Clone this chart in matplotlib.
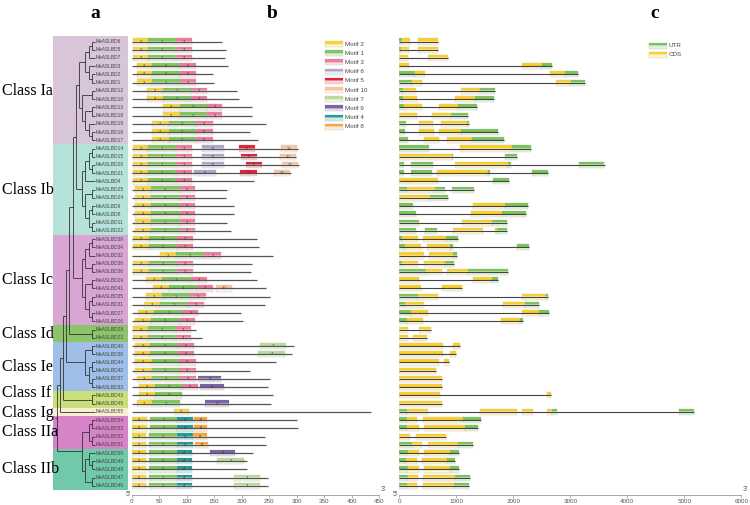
import numpy as np
import matplotlib
matplotlib.use("Agg")
import matplotlib.pyplot as plt
from matplotlib.patches import Rectangle
from matplotlib.colors import to_rgb

# ---- data -------------------------------------------------------------
gene_ids = [6, 5, 7, 3, 2, 1, 12, 10, 13, 18, 19, 16, 17,
            14, 15, 20, 21, 4, 25, 24, 9, 8, 11, 22,
            39, 34, 32, 38, 36, 29, 41, 35, 31, 27, 26,
            28, 23,
            40, 30, 44, 42, 37, 33,
            43, 45,
            55,
            54, 53, 52, 51,
            50, 49, 48, 47, 46]
class_names = ["Class Ia", "Class Ib", "Class Ic", "Class Id", "Class Ie",
               "Class If", "Class Ig", "Class IIa", "Class IIb"]
class_sizes = [13, 11, 11, 2, 6, 2, 1, 4, 5]
class_colors = ["#d8c5da", "#b5e2d9", "#d9a5d3", "#8dc46b", "#9fbfe9",
                "#c9df7c", "#fbecd4", "#d683c7", "#70c9a8"]
# small vertical nudges (rows) so the two thin classes' labels don't collide
label_shift = [0, 0, 0, 0, 0, -0.75, 0.1, 0, 0]

# cladogram topology (gene numbers)
Ia = ((((6, 5), 7), (3, (2, 1))), ((12, 10), ((13, 18), (19, (16, 17)))))
Ib = ((((14, 15), (20, 21)), 4), ((25, 24), ((9, 8), (11, 22))))
Ic = ((((39, 34), 32), (38, 36)), ((29, 41), ((35, 31), (27, 26))))
Id = (28, 23)
Ie = ((40, 30), ((44, 42), (37, 33)))
If = (43, 45)
IIa = ((54, 53), (52, 51))
IIb = ((50, (49, 48)), (47, 46))
tree = (((((((((Ia, Ib), Ic), Id), Ie), If), 55)), (IIa, IIb)))

# panel b: protein length (aa) and motif hits (motif, start, end)
protein_len = [165, 171, 170, 175, 147, 149, 191, 195, 218, 218, 245, 215, 229,
               302, 299, 304, 289, 223, 173, 171, 186, 186, 173, 180,
               228, 231, 256, 219, 216, 227, 244, 251, 242, 199, 202,
               117, 128,
               295, 292, 263, 215, 252, 248,
               257, 254,
               435,
               300, 303, 242, 245,
               221, 209, 210, 248, 248]
motifs = [
    [(2, 2, 30), (1, 30, 80), (3, 80, 110)],
    [(2, 2, 30), (1, 30, 80), (3, 80, 110)],
    [(2, 2, 30), (1, 30, 80), (3, 80, 110)],
    [(2, 9, 37), (1, 37, 88), (3, 88, 117)],
    [(2, 9, 37), (1, 37, 88), (3, 88, 117)],
    [(2, 9, 37), (1, 37, 88), (3, 88, 117)],
    [(2, 28, 57), (1, 57, 107), (3, 107, 136)],
    [(2, 28, 57), (1, 57, 107), (3, 107, 136)],
    [(2, 57, 87), (1, 87, 137), (3, 137, 165)],
    [(2, 57, 87), (1, 87, 137), (3, 137, 165)],
    [(2, 37, 67), (1, 67, 117), (3, 117, 147)],
    [(2, 37, 67), (1, 67, 117), (3, 117, 147)],
    [(2, 37, 67), (1, 67, 117), (3, 117, 147)],
    [(2, 2, 30), (1, 30, 81), (3, 81, 110), (6, 128, 167), (5, 195, 225), (10, 271, 300)],
    [(2, 2, 30), (1, 30, 81), (3, 81, 110), (6, 128, 167), (5, 198, 228), (10, 270, 298)],
    [(2, 2, 30), (1, 30, 81), (3, 81, 110), (6, 128, 167), (5, 207, 237), (10, 274, 302)],
    [(2, 2, 30), (1, 30, 81), (3, 81, 110), (6, 113, 153), (5, 197, 227), (10, 259, 288)],
    [(2, 2, 30), (1, 30, 81), (3, 81, 110)],
    [(2, 6, 35), (1, 35, 87), (3, 87, 115)],
    [(2, 6, 35), (1, 35, 87), (3, 87, 115)],
    [(2, 6, 35), (1, 35, 87), (3, 87, 115)],
    [(2, 6, 35), (1, 35, 87), (3, 87, 115)],
    [(2, 6, 35), (1, 35, 87), (3, 87, 115)],
    [(2, 6, 35), (1, 35, 87), (3, 87, 115)],
    [(2, 3, 32), (1, 32, 83), (3, 83, 112)],
    [(2, 3, 32), (1, 32, 83), (3, 83, 112)],
    [(2, 51, 80), (1, 80, 132), (3, 132, 162)],
    [(2, 3, 32), (1, 32, 83), (3, 83, 112)],
    [(2, 3, 32), (1, 32, 83), (3, 83, 112)],
    [(2, 26, 55), (1, 55, 107), (3, 107, 136)],
    [(2, 39, 68), (1, 68, 119), (3, 119, 148), (10, 153, 182)],
    [(2, 26, 55), (1, 55, 106), (3, 106, 135)],
    [(2, 22, 51), (1, 51, 103), (3, 103, 132)],
    [(2, 12, 41), (1, 41, 93), (3, 93, 121)],
    [(2, 6, 35), (1, 35, 87), (3, 87, 115)],
    [(2, 2, 30), (1, 30, 80), (3, 80, 108)],
    [(2, 2, 30), (1, 30, 80), (3, 80, 108)],
    [(2, 6, 34), (1, 34, 85), (3, 85, 114), (7, 233, 281)],
    [(2, 6, 34), (1, 34, 85), (3, 85, 114), (7, 230, 278)],
    [(2, 6, 36), (1, 36, 86), (3, 86, 116)],
    [(2, 6, 36), (1, 36, 86), (3, 86, 116)],
    [(2, 9, 37), (1, 37, 88), (3, 88, 117), (9, 120, 163)],
    [(2, 13, 42), (1, 42, 92), (3, 92, 121), (9, 124, 167)],
    [(2, 13, 42), (1, 42, 92)],
    [(2, 9, 37), (1, 37, 88), (9, 133, 177)],
    [(2, 76, 104)],
    [(2, 0, 28), (1, 34, 83), (4, 83, 112), (8, 113, 137)],
    [(2, 0, 28), (1, 34, 83), (4, 83, 112), (8, 113, 137)],
    [(2, 0, 26), (1, 32, 82), (4, 82, 111), (8, 112, 137)],
    [(2, 0, 26), (1, 32, 82), (4, 82, 111), (8, 115, 139)],
    [(2, 0, 26), (1, 32, 82), (4, 82, 110), (9, 143, 187)],
    [(2, 0, 26), (1, 32, 82), (4, 82, 110), (7, 155, 204)],
    [(2, 0, 26), (1, 32, 82), (4, 82, 110)],
    [(2, 0, 26), (1, 32, 82), (4, 82, 110), (7, 186, 234)],
    [(2, 0, 26), (1, 32, 82), (4, 82, 110), (7, 186, 234)],
]
motif_order = [2, 1, 3, 6, 5, 10, 7, 9, 4, 8]
motif_colors = {2: "#f7d23a", 1: "#80c55e", 3: "#ee7c9a", 6: "#aaa7c9",
                5: "#e5223c", 10: "#f9c49b", 7: "#b9dc9b", 9: "#7b63a9",
                4: "#209c9c", 8: "#f7a63b"}

# panel c: exons (U = UTR, C = CDS), bp
exons = [
    [("U", 0, 42), ("C", 42, 188), ("C", 322, 673)],
    [("U", 0, 30), ("C", 30, 176), ("C", 334, 685)],
    [("C", 0, 147), ("C", 510, 860)],
    [("C", 0, 176), ("C", 2147, 2498), ("U", 2498, 2673)],
    [("U", 0, 276), ("C", 276, 451), ("C", 2644, 2907), ("U", 2907, 3141)],
    [("U", 0, 217), ("C", 217, 393), ("C", 2743, 3012), ("U", 3012, 3258)],
    [("U", 0, 71), ("C", 71, 287), ("C", 1083, 1416), ("U", 1416, 1679)],
    [("U", 0, 71), ("C", 71, 305), ("C", 977, 1328), ("U", 1328, 1662)],
    [("U", 0, 83), ("C", 83, 393), ("C", 702, 1036), ("U", 1036, 1357)],
    [("C", 0, 317), ("C", 568, 901), ("U", 901, 1211)],
    [("U", 0, 112), ("C", 346, 597), ("C", 726, 1194), ("U", 1194, 1229)],
    [("U", 0, 100), ("C", 352, 609), ("C", 697, 1077), ("U", 1077, 1738)],
    [("U", 0, 147), ("C", 439, 697), ("C", 843, 1270), ("U", 1270, 1843)],
    [("U", 0, 521), ("C", 1065, 1972), ("U", 1972, 2305)],
    [("C", 0, 920), ("U", 920, 948), ("U", 1854, 2071)],
    [("U", 0, 88), ("U", 205, 585), ("C", 977, 1913), ("U", 1913, 1954), ("U", 3159, 3600)],
    [("U", 0, 88), ("U", 205, 568), ("C", 656, 1562), ("U", 1562, 1592), ("U", 2322, 2615)],
    [("C", 0, 673), ("U", 1650, 1925)],
    [("U", 0, 130), ("C", 130, 626), ("U", 626, 802), ("U", 930, 1316)],
    [("C", 0, 539), ("U", 539, 860)],
    [("U", 0, 246), ("C", 1299, 1855), ("U", 1855, 2252)],
    [("U", 0, 287), ("C", 1252, 1808), ("U", 1808, 2217)],
    [("U", 0, 352), ("C", 1106, 1621), ("U", 1621, 1896)],
    [("U", 0, 287), ("U", 451, 656), ("C", 948, 1463), ("C", 1679, 1720), ("U", 1720, 1884)],
    [("U", 0, 53), ("C", 53, 334), ("C", 422, 814), ("U", 814, 1024)],
    [("U", 0, 100), ("C", 100, 381), ("C", 480, 890), ("U", 890, 948), ("U", 2059, 2270)],
    [("C", 0, 433), ("C", 521, 936), ("U", 936, 1007)],
    [("U", 0, 53), ("C", 53, 334), ("C", 433, 802), ("U", 802, 966)],
    [("U", 0, 463), ("C", 463, 743), ("C", 843, 1211), ("U", 1211, 1913)],
    [("C", 0, 346), ("C", 1299, 1621), ("U", 1621, 1738)],
    [("C", 0, 381), ("C", 755, 1094)],
    [("U", 0, 334), ("C", 334, 685), ("C", 2159, 2574), ("U", 2574, 2603)],
    [("U", 0, 100), ("C", 100, 433), ("C", 1825, 2205), ("U", 2205, 2451)],
    [("U", 0, 200), ("C", 200, 510), ("C", 2159, 2451), ("U", 2451, 2632)],
    [("U", 0, 130), ("C", 130, 422), ("C", 1778, 2118), ("U", 2118, 2165)],
    [("C", 0, 147), ("C", 352, 550)],
    [("C", 0, 147), ("C", 246, 480)],
    [("C", 0, 773), ("C", 948, 1065)],
    [("C", 0, 773), ("C", 890, 989)],
    [("C", 0, 697), ("C", 784, 872)],
    [("C", 0, 638)],
    [("C", 0, 755)],
    [("C", 0, 743)],
    [("C", 0, 714), ("C", 2585, 2655)],
    [("C", 0, 755)],
    [("U", 0, 130), ("C", 130, 498), ("C", 1416, 2059), ("C", 2147, 2352),
     ("C", 2585, 2673), ("U", 2673, 2761), ("U", 4912, 5175)],
    [("U", 0, 130), ("C", 130, 317), ("C", 422, 1124), ("U", 1124, 1428)],
    [("U", 0, 141), ("C", 141, 346), ("C", 433, 1153), ("U", 1153, 1387)],
    [("C", 0, 188), ("C", 287, 819)],
    [("U", 0, 217), ("C", 217, 404), ("C", 498, 1036), ("U", 1036, 1299)],
    [("U", 0, 159), ("C", 159, 352), ("C", 433, 890), ("U", 890, 1053)],
    [("U", 0, 118), ("C", 118, 305), ("C", 393, 831), ("U", 831, 977)],
    [("U", 0, 159), ("C", 159, 346), ("C", 439, 890), ("U", 890, 1047)],
    [("U", 0, 159), ("C", 159, 334), ("C", 422, 977), ("U", 977, 1240)],
    [("U", 0, 141), ("C", 141, 317), ("C", 422, 966), ("U", 966, 1229)],
]
part_colors = {"U": "#7cc35b", "C": "#f8cf2e"}
part_names = {"U": "UTR", "C": "CDS"}

# ---- layout -------------------------------------------------------------
W, H = 750, 505
fig = plt.figure(figsize=(W / 100, H / 100), dpi=100)


def frac(x0, y0, x1, y1):
    # pixel box (origin top-left) -> figure rect
    return [x0 / W, 1 - y1 / H, (x1 - x0) / W, (y1 - y0) / H]


TOP, BOT = 36, 495
YLIM = (55.1, -0.67)
SANS = "Liberation Sans"


def gbox(ax, x0, x1, y, h, color, label=None, fs=3):
    c = np.array(to_rgb(color))
    ax.add_patch(Rectangle((x0, y - h / 2), x1 - x0, h, fc=0.22 * c + 0.78,
                           ec="#c8c8c8", lw=0.3))
    ax.add_patch(Rectangle((x0, y - h / 2), x1 - x0, h * 0.42, fc=c, ec="none"))
    ax.add_patch(Rectangle((x0, y - h / 2 + h * 0.42), x1 - x0, h * 0.18,
                           fc=0.55 * c + 0.45, ec="none"))
    if label is not None:
        ax.text((x0 + x1) / 2, y, label, fontsize=fs, ha="center", va="center",
                color="#333333", family=SANS)


# ---- a: tree with class bands ---------------------------------------
ax_t = fig.add_axes(frac(53, TOP, 128, BOT))
ax_t.set_xlim(0, 75)
ax_t.set_ylim(*YLIM)
ax_t.axis("off")

start = 0
for name, size, col, dy in zip(class_names, class_sizes, class_colors, label_shift):
    y0 = start - 0.5 if start > 0 else YLIM[1]
    ax_t.axhspan(y0, start + size - 0.5, color=col, lw=0)
    yc = 41.5 + 8.23 * (start + size / 2 - 0.5 + dy)
    fig.text(2 / W, 1 - yc / H, name, fontsize=11.5,
             family="Liberation Serif", va="center", ha="left")
    start += size

rows = {g: i for i, g in enumerate(gene_ids)}
TIP_X, STEP = 42, 3.2


def draw_tree(node):
    if isinstance(node, int):
        return rows[node], 0, TIP_X
    ys, hs, xs = zip(*[draw_tree(c) for c in node])
    h = max(hs) + 1
    x = TIP_X - STEP * h
    ax_t.vlines(x, min(ys), max(ys), color="#333333", lw=0.6)
    for y, cx in zip(ys, xs):
        ax_t.hlines(y, x, cx, color="#333333", lw=0.6)
    return (min(ys) + max(ys)) / 2, h, x


root_y, _, root_x = draw_tree(tree)
ax_t.hlines(root_y, root_x - 1.5, root_x, color="#333333", lw=0.6)

for g, i in rows.items():
    ax_t.text(TIP_X + 0.6, i, f"MeASLBD{g}", fontsize=3.5, family=SANS,
              va="center", ha="left", color="#444444")


def style_axis(ax, ticks):
    ax.set_ylim(*YLIM)
    ax.set_yticks([])
    for s in ("top", "right", "left"):
        ax.spines[s].set_visible(False)
    ax.spines["bottom"].set_color("#999999")
    ax.spines["bottom"].set_linewidth(0.6)
    ax.set_xticks(ticks)
    ax.tick_params(axis="x", length=2, width=0.5, color="#999999", pad=1,
                   labelsize=4.5, labelcolor="#555555")
    for t in ax.get_xticklabels():
        t.set_family(SANS)
    ax.patch.set_alpha(0)
    ax.text(-0.004, 0.0, "5'", transform=ax.transAxes, ha="right", va="center",
            fontsize=5, color="#555555", family=SANS)
    ax.text(1.004, 0.004, "3'", transform=ax.transAxes, ha="left", va="bottom",
            fontsize=5, color="#555555", family=SANS)


# ---- b: motifs ----------------------------------------------------------
ax_b = fig.add_axes(frac(131.7, TOP, 379.2, BOT))
ax_b.set_xlim(0, 450)
style_axis(ax_b, range(0, 451, 50))
for i, (plen, hits) in enumerate(zip(protein_len, motifs)):
    ax_b.hlines(i, 0, plen, color="#555555", lw=0.9)
    for m, s, e in hits:
        gbox(ax_b, s, e, i, 0.78, motif_colors[m], str(m))

ax_lb = fig.add_axes(frac(324, 38, 380, 132))
ax_lb.set_xlim(0, 56)
ax_lb.set_ylim(94, 0)
ax_lb.axis("off")
for k, m in enumerate(motif_order):
    gbox(ax_lb, 1, 19, 6 + 9.2 * k, 6, motif_colors[m])
    ax_lb.text(21, 6 + 9.2 * k, f"Motif {m}", fontsize=4.5, family=SANS,
               va="center", color="#444444")

# ---- c: gene structure --------------------------------------------------
ax_c = fig.add_axes(frac(399.3, TOP, 741.3, BOT))
ax_c.set_xlim(0, 6000)
style_axis(ax_c, range(0, 6001, 1000))
for i, parts in enumerate(exons):
    ax_c.hlines(i, 0, parts[-1][2], color="#444444", lw=0.8)
    for kind, s, e in parts:
        gbox(ax_c, s, e, i, 0.74, part_colors[kind])

ax_lc = fig.add_axes(frac(647, 40, 700, 62))
ax_lc.set_xlim(0, 53)
ax_lc.set_ylim(22, 0)
ax_lc.axis("off")
for k, kind in enumerate(["U", "C"]):
    gbox(ax_lc, 2, 20, 5.5 + 9.3 * k, 6, part_colors[kind])
    ax_lc.text(21.5, 5.5 + 9.3 * k, part_names[kind], fontsize=4.5, family=SANS,
               va="center", color="#444444")

# panel letters
for lab, xp in [("a", 95), ("b", 272), ("c", 655)]:
    fig.text(xp / W, 1 - 13 / H, lab, fontsize=14, fontweight="bold",
             family="Liberation Serif", ha="center", va="center")

fig.savefig("out.png", dpi=100)
